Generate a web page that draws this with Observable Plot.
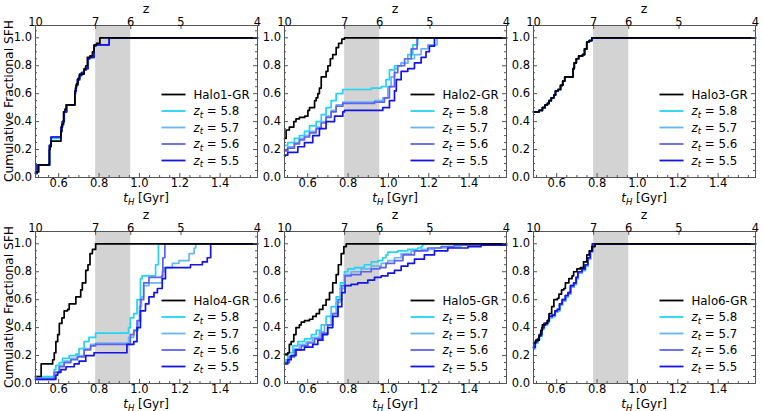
<!DOCTYPE html>
<html><head><meta charset="utf-8">
<script src="https://cdn.jsdelivr.net/npm/d3@7"></script>
<script src="https://cdn.jsdelivr.net/npm/@observablehq/plot@0.6"></script>
<style>
html,body{margin:0;padding:0;background:#fff;}
#chart{position:relative;width:763px;height:411px;overflow:hidden;font-family:"DejaVu Sans",sans-serif;}
#chart svg{position:absolute;overflow:visible;}
</style></head><body><div id="chart"></div>
<script>
// ---------- axes / ticks ----------
const xDomain = [0.485, 1.585];
const yDomain = [0, 1.088];
const xMajor = [0.6, 0.8, 1.0, 1.2, 1.4];
const xMinor = [0.5, 0.55, 0.65, 0.7, 0.75, 0.85, 0.9, 0.95, 1.05, 1.1, 1.15, 1.25, 1.3, 1.35, 1.45, 1.5, 1.55];
const yMajor = [0, 0.2, 0.4, 0.6, 0.8, 1.0];
const yMinor = [0.05, 0.1, 0.15, 0.25, 0.3, 0.35, 0.45, 0.5, 0.55, 0.65, 0.7, 0.75, 0.85, 0.9, 0.95, 1.05];
const topTickZ = [10, 7, 6, 5, 4];
const topTickT = [0.485, 0.783, 0.957, 1.206, 1.585];
const bandT = [0.783, 0.957];
const haloNames = ["Halo1-GR", "Halo2-GR", "Halo3-GR", "Halo4-GR", "Halo5-GR", "Halo6-GR"];
const ztLabels = ["5.8", "5.7", "5.6", "5.5"];

// ---------- Halo 1 ----------
const h1_GR = [[0.485,0.04],[0.501,0.09],[0.554,0.20],[0.557,0.22],[0.562,0.26],[0.611,0.33],[0.616,0.38],[0.624,0.47],[0.631,0.49],[0.637,0.52],[0.680,0.60],[0.683,0.64],[0.688,0.67],[0.696,0.71],[0.703,0.74],[0.726,0.78],[0.734,0.80],[0.742,0.86],[0.755,0.87],[0.767,0.90],[0.775,0.95],[0.787,0.96],[0.804,1.0],[1.585,1.0]];
const h1_58 = [[0.485,0.03],[0.494,0.09],[0.555,0.23],[0.563,0.28],[0.612,0.36],[0.619,0.40],[0.628,0.47],[0.640,0.52],[0.681,0.62],[0.687,0.66],[0.694,0.70],[0.704,0.73],[0.714,0.75],[0.727,0.77],[0.735,0.78],[0.746,0.85],[0.754,0.86],[0.776,0.94],[0.784,0.95],[0.850,1.0],[1.585,1.0]];
const h1_57 = [[0.485,0.03],[0.493,0.09],[0.554,0.23],[0.562,0.29],[0.611,0.36],[0.618,0.40],[0.627,0.47],[0.639,0.52],[0.680,0.62],[0.686,0.66],[0.693,0.70],[0.703,0.73],[0.713,0.75],[0.726,0.77],[0.734,0.78],[0.745,0.85],[0.753,0.86],[0.775,0.94],[0.783,0.95],[0.850,1.0],[1.585,1.0]];
const h1_56 = [[0.485,0.03],[0.493,0.09],[0.554,0.23],[0.562,0.29],[0.611,0.36],[0.618,0.40],[0.627,0.47],[0.639,0.52],[0.680,0.62],[0.686,0.66],[0.693,0.70],[0.703,0.73],[0.713,0.75],[0.726,0.77],[0.734,0.78],[0.745,0.85],[0.753,0.86],[0.775,0.94],[0.783,0.95],[0.850,1.0],[1.585,1.0]];
const h1_55 = [[0.485,0.03],[0.493,0.09],[0.554,0.23],[0.562,0.29],[0.611,0.36],[0.618,0.40],[0.627,0.47],[0.639,0.52],[0.680,0.62],[0.686,0.66],[0.693,0.70],[0.703,0.73],[0.713,0.75],[0.726,0.77],[0.734,0.78],[0.745,0.85],[0.753,0.86],[0.775,0.94],[0.783,0.95],[0.850,1.0],[1.585,1.0]];

// ---------- Halo 2 ----------
const h2_GR = [[0.485,0.28],[0.493,0.34],[0.509,0.36],[0.531,0.40],[0.542,0.42],[0.559,0.43],[0.585,0.44],[0.601,0.48],[0.609,0.50],[0.634,0.55],[0.642,0.57],[0.650,0.60],[0.658,0.64],[0.667,0.72],[0.686,0.72],[0.691,0.76],[0.700,0.80],[0.712,0.85],[0.724,0.88],[0.741,0.93],[0.753,0.96],[0.769,0.99],[0.782,1.0],[1.585,1.0]];
const h2_58 = [[0.485,0.23],[0.501,0.25],[0.534,0.28],[0.559,0.30],[0.584,0.33],[0.609,0.37],[0.642,0.40],[0.667,0.45],[0.691,0.50],[0.716,0.55],[0.741,0.60],[0.774,0.63],[0.915,0.64],[0.964,0.65],[0.988,0.70],[1.005,0.77],[1.030,0.80],[1.063,0.82],[1.096,0.88],[1.121,0.95],[1.145,1.0],[1.585,1.0]];
const h2_57 = [[0.485,0.20],[0.501,0.22],[0.534,0.25],[0.559,0.28],[0.584,0.30],[0.609,0.33],[0.642,0.36],[0.667,0.40],[0.691,0.44],[0.716,0.48],[0.741,0.52],[0.774,0.54],[0.931,0.55],[0.972,0.57],[0.997,0.65],[1.013,0.72],[1.030,0.78],[1.046,0.80],[1.063,0.82],[1.096,0.85],[1.129,0.88],[1.162,0.92],[1.195,0.95],[1.241,1.0],[1.585,1.0]];
const h2_56 = [[0.485,0.19],[0.501,0.21],[0.534,0.24],[0.559,0.27],[0.584,0.29],[0.609,0.32],[0.642,0.35],[0.667,0.39],[0.691,0.43],[0.716,0.47],[0.741,0.51],[0.774,0.53],[0.931,0.54],[0.980,0.57],[1.005,0.65],[1.030,0.75],[1.046,0.80],[1.080,0.85],[1.113,0.92],[1.142,1.0],[1.585,1.0]];
const h2_55 = [[0.485,0.16],[0.501,0.18],[0.551,0.22],[0.584,0.25],[0.625,0.30],[0.658,0.35],[0.691,0.40],[0.733,0.44],[0.774,0.47],[0.782,0.48],[0.948,0.48],[0.972,0.50],[1.005,0.55],[1.030,0.62],[1.039,0.70],[1.063,0.76],[1.096,0.78],[1.129,0.82],[1.162,0.86],[1.186,0.90],[1.203,0.94],[1.228,1.0],[1.585,1.0]];

// ---------- Halo 3 ----------
const h3_GR = [[0.485,0.47],[0.513,0.48],[0.529,0.50],[0.542,0.52],[0.554,0.53],[0.562,0.55],[0.573,0.57],[0.586,0.59],[0.594,0.62],[0.607,0.63],[0.619,0.66],[0.630,0.69],[0.640,0.72],[0.676,0.72],[0.681,0.78],[0.687,0.82],[0.697,0.85],[0.709,0.87],[0.728,0.88],[0.738,0.92],[0.749,0.97],[0.761,0.98],[0.774,1.0],[1.585,1.0]];
const h3_zt = [[0.485,0.47],[0.513,0.48],[0.529,0.50],[0.542,0.52],[0.554,0.53],[0.562,0.55],[0.573,0.57],[0.586,0.59],[0.594,0.62],[0.607,0.63],[0.619,0.66],[0.630,0.69],[0.640,0.72],[0.676,0.72],[0.681,0.78],[0.687,0.82],[0.697,0.85],[0.709,0.87],[0.728,0.88],[0.738,0.92],[0.749,0.97],[0.761,0.98],[0.774,1.0],[1.585,1.0]];

// ---------- Halo 4 ----------
const h4_GR = [[0.485,0.05],[0.513,0.14],[0.570,0.17],[0.578,0.22],[0.586,0.30],[0.595,0.35],[0.603,0.43],[0.616,0.47],[0.627,0.52],[0.644,0.53],[0.652,0.57],[0.685,0.62],[0.709,0.67],[0.717,0.72],[0.734,0.81],[0.745,0.85],[0.755,0.93],[0.767,0.96],[0.783,1.0],[1.585,1.0]];
const h4_58 = [[0.485,0.05],[0.578,0.10],[0.586,0.13],[0.603,0.15],[0.619,0.18],[0.652,0.20],[0.685,0.21],[0.701,0.25],[0.726,0.30],[0.750,0.33],[0.783,0.36],[0.946,0.40],[0.955,0.47],[0.972,0.50],[0.988,0.60],[1.005,0.75],[1.013,0.77],[1.080,0.85],[1.094,1.0],[1.585,1.0]];
const h4_57 = [[0.485,0.04],[0.578,0.08],[0.603,0.13],[0.627,0.16],[0.660,0.18],[0.693,0.20],[0.726,0.25],[0.758,0.28],[0.783,0.29],[0.946,0.33],[0.972,0.38],[0.993,0.45],[1.000,0.55],[1.010,0.62],[1.021,0.70],[1.047,0.72],[1.113,0.80],[1.121,0.83],[1.163,0.86],[1.196,0.88],[1.246,0.93],[1.271,0.97],[1.279,1.0],[1.585,1.0]];
const h4_56 = [[0.485,0.03],[0.578,0.08],[0.603,0.12],[0.627,0.15],[0.660,0.17],[0.693,0.19],[0.726,0.24],[0.758,0.27],[0.783,0.28],[0.955,0.35],[0.972,0.38],[0.988,0.45],[1.005,0.60],[1.021,0.72],[1.047,0.76],[1.110,0.77],[1.116,0.90],[1.126,1.0],[1.585,1.0]];
const h4_55 = [[0.485,0.03],[0.586,0.06],[0.595,0.08],[0.611,0.10],[0.636,0.12],[0.677,0.14],[0.701,0.16],[0.734,0.20],[0.775,0.22],[0.938,0.28],[0.972,0.30],[0.988,0.40],[1.005,0.52],[1.030,0.57],[1.047,0.62],[1.072,0.65],[1.089,0.68],[1.113,0.75],[1.129,0.83],[1.253,0.85],[1.312,0.87],[1.336,0.90],[1.353,1.0],[1.585,1.0]];

// ---------- Halo 5 ----------
const h5_GR = [[0.485,0.21],[0.501,0.22],[0.509,0.28],[0.518,0.30],[0.531,0.35],[0.542,0.40],[0.559,0.42],[0.568,0.44],[0.584,0.45],[0.609,0.46],[0.625,0.48],[0.642,0.50],[0.658,0.53],[0.675,0.56],[0.691,0.60],[0.708,0.65],[0.724,0.72],[0.741,0.78],[0.752,0.85],[0.766,0.93],[0.779,0.98],[0.791,1.0],[1.585,1.0]];
const h5_58 = [[0.485,0.17],[0.501,0.22],[0.526,0.27],[0.551,0.30],[0.584,0.32],[0.618,0.35],[0.642,0.38],[0.667,0.42],[0.691,0.48],[0.716,0.55],[0.741,0.62],[0.762,0.72],[0.782,0.80],[0.799,0.82],[0.832,0.83],[0.881,0.85],[0.915,0.87],[0.947,0.88],[0.972,0.90],[0.988,0.92],[0.997,0.94],[1.046,0.95],[1.096,0.96],[1.145,0.97],[1.162,0.98],[1.170,1.0],[1.585,1.0]];
const h5_57 = [[0.485,0.16],[0.509,0.20],[0.534,0.25],[0.559,0.28],[0.593,0.30],[0.625,0.33],[0.658,0.37],[0.683,0.42],[0.716,0.50],[0.741,0.58],[0.762,0.68],[0.782,0.78],[0.815,0.80],[0.864,0.82],[0.915,0.84],[0.964,0.86],[0.997,0.88],[1.030,0.90],[1.063,0.93],[1.113,0.95],[1.162,0.96],[1.228,0.97],[1.294,0.98],[1.360,0.99],[1.585,0.99]];
const h5_56 = [[0.485,0.15],[0.509,0.19],[0.534,0.24],[0.568,0.27],[0.601,0.29],[0.634,0.32],[0.667,0.36],[0.699,0.42],[0.724,0.50],[0.750,0.60],[0.769,0.70],[0.785,0.77],[0.815,0.78],[0.864,0.80],[0.915,0.82],[0.957,0.83],[0.988,0.86],[1.030,0.88],[1.072,0.92],[1.129,0.95],[1.195,0.97],[1.261,0.98],[1.326,0.99],[1.585,0.99]];
const h5_55 = [[0.485,0.14],[0.501,0.17],[0.518,0.20],[0.542,0.24],[0.584,0.26],[0.625,0.28],[0.650,0.31],[0.675,0.35],[0.699,0.40],[0.724,0.48],[0.750,0.55],[0.769,0.65],[0.785,0.70],[0.815,0.71],[0.848,0.72],[0.898,0.74],[0.931,0.76],[0.964,0.77],[0.997,0.79],[1.030,0.81],[1.063,0.84],[1.096,0.86],[1.129,0.89],[1.178,0.92],[1.228,0.95],[1.294,0.97],[1.394,0.98],[1.459,0.99],[1.585,0.99]];

// ---------- Halo 6 ----------
const h6_GR = [[0.485,0.29],[0.496,0.31],[0.513,0.34],[0.521,0.38],[0.529,0.42],[0.545,0.43],[0.554,0.45],[0.562,0.50],[0.575,0.55],[0.586,0.60],[0.603,0.61],[0.611,0.64],[0.624,0.67],[0.635,0.68],[0.643,0.72],[0.660,0.75],[0.676,0.77],[0.684,0.80],[0.700,0.82],[0.717,0.83],[0.733,0.87],[0.749,0.92],[0.761,0.95],[0.774,0.98],[0.790,1.0],[1.585,1.0]];
const h6_58 = [[0.485,0.25],[0.494,0.29],[0.507,0.31],[0.515,0.34],[0.528,0.39],[0.539,0.42],[0.556,0.44],[0.564,0.47],[0.580,0.48],[0.593,0.51],[0.605,0.52],[0.616,0.56],[0.629,0.59],[0.645,0.62],[0.658,0.64],[0.670,0.69],[0.686,0.71],[0.698,0.75],[0.707,0.79],[0.727,0.81],[0.743,0.84],[0.756,0.89],[0.768,0.94],[0.779,1.0],[1.585,1.0]];
const h6_57 = [[0.485,0.25],[0.494,0.29],[0.506,0.31],[0.514,0.34],[0.527,0.39],[0.538,0.42],[0.555,0.44],[0.563,0.47],[0.579,0.48],[0.592,0.51],[0.604,0.52],[0.615,0.56],[0.628,0.59],[0.644,0.62],[0.657,0.64],[0.669,0.69],[0.685,0.71],[0.697,0.75],[0.706,0.79],[0.726,0.81],[0.742,0.84],[0.755,0.89],[0.767,0.94],[0.778,1.0],[1.585,1.0]];
const h6_56 = [[0.485,0.26],[0.493,0.30],[0.505,0.32],[0.513,0.35],[0.526,0.40],[0.537,0.43],[0.554,0.45],[0.562,0.48],[0.578,0.49],[0.591,0.52],[0.603,0.53],[0.614,0.57],[0.627,0.60],[0.643,0.63],[0.656,0.65],[0.668,0.70],[0.684,0.72],[0.696,0.76],[0.705,0.80],[0.725,0.82],[0.741,0.85],[0.754,0.90],[0.766,0.95],[0.777,1.0],[1.585,1.0]];
const h6_55 = [[0.485,0.26],[0.493,0.30],[0.505,0.32],[0.513,0.35],[0.526,0.40],[0.537,0.43],[0.554,0.45],[0.562,0.48],[0.578,0.49],[0.591,0.52],[0.603,0.53],[0.614,0.57],[0.627,0.60],[0.643,0.63],[0.656,0.65],[0.668,0.70],[0.684,0.72],[0.696,0.76],[0.705,0.80],[0.725,0.82],[0.741,0.85],[0.754,0.90],[0.766,0.95],[0.777,1.0],[1.585,1.0]];

const grSeries = [h1_GR, h2_GR, h3_GR, h4_GR, h5_GR, h6_GR];
const ztSeries = [
  [h1_58, h1_57, h1_56, h1_55],
  [h2_58, h2_57, h2_56, h2_55],
  [h3_zt, h3_zt, h3_zt, h3_zt],
  [h4_58, h4_57, h4_56, h4_55],
  [h5_58, h5_57, h5_56, h5_55],
  [h6_58, h6_57, h6_56, h6_55]
];

// ---------- styling / layout ----------
const ztColors = ["#22d4f4", "#66b6f6", "#5f62f0", "#1414ea"];
const frameColor = "#555";
const W = 264, H = 207, ML = 34, MR = 8, MT = 25, MB = 30;
const FW = W - ML - MR, FH = H - MT - MB;
const colFrameLeft = [34.5, 284, 533];
const rowFrameTop = [25, 230.5];
const FONT = "DejaVu Sans";
const TICK_FS = 11.5;
const NS = "http://www.w3.org/2000/svg";

const chart = document.getElementById("chart");

function addText(parent, attrs, parts) {
  const t = document.createElementNS(NS, "text");
  for (const k in attrs) t.setAttribute(k, attrs[k]);
  for (const p of parts) {
    const s = document.createElementNS(NS, "tspan");
    s.textContent = p.text;
    if (p.italic) s.setAttribute("font-style", "italic");
    if (p.size) s.setAttribute("font-size", p.size);
    if (p.dy) s.setAttribute("dy", p.dy);
    t.appendChild(s);
  }
  parent.appendChild(t);
  return t;
}

grSeries.forEach((gr, i) => {
  const row = Math.floor(i / 3), col = i % 3;
  const xy = {x: d => d[0], y: d => d[1], curve: "step-after"};
  const svg = Plot.plot({
    width: W, height: H,
    marginLeft: ML, marginRight: MR, marginTop: MT, marginBottom: MB,
    x: {domain: xDomain, axis: null},
    y: {domain: yDomain, axis: null},
    style: {background: "none", fontFamily: FONT, fontSize: "11px", overflow: "visible"},
    marks: [
      Plot.rect([bandT], {x1: d => d[0], x2: d => d[1], fill: "#d3d3d3"}),
      ...ztSeries[i].map((s, k) => Plot.line(s, {...xy, stroke: ztColors[k], strokeWidth: 1.7})),
      Plot.line(gr, {...xy, stroke: "#000", strokeWidth: 1.7}),
      Plot.frame({stroke: frameColor, strokeWidth: 1}),
      Plot.tickX(xMajor, {x: d => d, insetTop: FH - 4, stroke: frameColor}),
      Plot.tickX(xMinor, {x: d => d, insetTop: FH - 2, stroke: frameColor}),
      Plot.tickX(topTickT, {x: d => d, insetBottom: FH - 4, stroke: frameColor}),
      Plot.tickY(yMajor, {y: d => d, insetRight: FW - 4, stroke: frameColor}),
      Plot.tickY(yMinor, {y: d => d, insetRight: FW - 2, stroke: frameColor}),
      Plot.tickY(yMajor, {y: d => d, insetLeft: FW - 4, stroke: frameColor}),
      Plot.tickY(yMinor, {y: d => d, insetLeft: FW - 2, stroke: frameColor}),
      Plot.text(xMajor, {x: d => d, frameAnchor: "bottom", dy: 9.5, text: d => d.toFixed(1), fontSize: TICK_FS, fill: "#000"}),
      Plot.text(yMajor, {y: d => d, frameAnchor: "left", dx: -3.5, textAnchor: "end", text: d => d.toFixed(1), fontSize: TICK_FS, fill: "#000"}),
      Plot.text(topTickT, {x: d => d, frameAnchor: "top", dy: -8, text: (d, j) => String(topTickZ[j]), fontSize: TICK_FS, fill: "#000"})
    ]
  });
  svg.style.left = (colFrameLeft[col] - ML) + "px";
  svg.style.top = (rowFrameTop[row] - MT) + "px";

  // axis labels
  addText(svg, {x: ML + FW / 2, y: MT + FH + 25, "text-anchor": "middle", "font-family": FONT, "font-size": 12, fill: "#000"},
    [{text: "t", italic: true}, {text: "H", italic: true, size: 8.5, dy: 2.5}, {text: " [Gyr]", dy: -2.5}]);
  addText(svg, {x: ML + FW / 2, y: MT - 12.5, "text-anchor": "middle", "font-family": FONT, "font-size": 12.5, fill: "#000"},
    [{text: "z"}]);
  if (col === 0) {
    addText(svg, {transform: `translate(${ML - 26},${MT + FH / 2}) rotate(-90)`, "text-anchor": "middle", "dominant-baseline": "central", "font-family": FONT, "font-size": 12.3, fill: "#000"},
      [{text: "Cumulative Fractional SFH"}]);
  }

  // legend
  const g = document.createElementNS(NS, "g");
  svg.appendChild(g);
  const rowsY = [69.5, 86, 102.5, 119, 135.5];
  const entries = [{color: "#000", label: haloNames[i]}].concat(ztLabels.map((l, k) => ({color: ztColors[k], zt: l})));
  entries.forEach((e, k) => {
    const y = MT + rowsY[k];
    const ln = document.createElementNS(NS, "line");
    ln.setAttribute("x1", ML + 126.5); ln.setAttribute("x2", ML + 150.5);
    ln.setAttribute("y1", y); ln.setAttribute("y2", y);
    ln.setAttribute("stroke", e.color); ln.setAttribute("stroke-width", 1.8);
    g.appendChild(ln);
    const attrs = {x: ML + 158.5, y: y + 4.2, "text-anchor": "start", "font-family": FONT, "font-size": 11.8, fill: "#000"};
    if (e.label) addText(g, attrs, [{text: e.label}]);
    else addText(g, attrs, [{text: "z", italic: true}, {text: "t", italic: true, size: 8.5, dy: 2.5}, {text: " = " + e.zt, dy: -2.5}]);
  });

  chart.appendChild(svg);
});
</script></body></html>
